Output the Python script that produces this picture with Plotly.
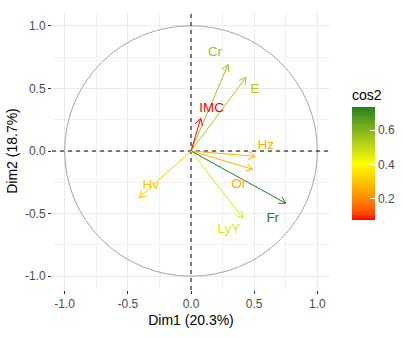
import math
import plotly.graph_objects as go
from plotly.colors import sample_colorscale

# ---- data ----
variables = ["Cr", "E", "IMC", "Hz", "Ol", "Fr", "LyY", "Hv"]
dim1 = [0.293, 0.435, 0.077, 0.507, 0.489, 0.750, 0.410, -0.410]
dim2 = [0.690, 0.588, 0.260, -0.042, -0.146, -0.417, -0.537, -0.370]
cos2 = [a * a + b * b for a, b in zip(dim1, dim2)]
# repelled label positions (layout)
label_x = [0.19, 0.507, 0.164, 0.591, 0.372, 0.647, 0.30, -0.319]
label_y = [0.788, 0.492, 0.341, 0.04, -0.266, -0.537, -0.63, -0.279]

x_ticks = [-1.0, -0.5, 0.0, 0.5, 1.0]
y_ticks = [-1.0, -0.5, 0.0, 0.5, 1.0]
cbar_ticks = [0.2, 0.4, 0.6]
x_title = "Dim1 (20.3%)"
y_title = "Dim2 (18.7%)"

# ---- layout constants ----
W, H = 403, 338
ML, MR, MT, MB = 52, 73, 12, 48
XR = [-1.10, 1.10]
YR = [-1.11, 1.11]
pw, ph = W - ML - MR, H - MT - MB
sx = pw / (XR[1] - XR[0])
sy = ph / (YR[1] - YR[0])

# ---- Lab-interpolated gradient (like ggplot) ----
def hex2rgb(h):
    h = h.lstrip("#")
    return [int(h[i:i + 2], 16) / 255 for i in (0, 2, 4)]

def srgb2lin(c):
    return c / 12.92 if c <= 0.04045 else ((c + 0.055) / 1.055) ** 2.4

def lin2srgb(c):
    c = min(max(c, 0), 1)
    return 12.92 * c if c <= 0.0031308 else 1.055 * c ** (1 / 2.4) - 0.055

WP = (0.95047, 1.0, 1.08883)

def rgb2lab(rgb):
    r, g, b = [srgb2lin(c) for c in rgb]
    X = 0.4124 * r + 0.3576 * g + 0.1805 * b
    Y = 0.2126 * r + 0.7152 * g + 0.0722 * b
    Z = 0.0193 * r + 0.1192 * g + 0.9505 * b
    def f(t):
        return t ** (1 / 3) if t > 0.008856 else 7.787 * t + 16 / 116
    fx, fy, fz = f(X / WP[0]), f(Y / WP[1]), f(Z / WP[2])
    return (116 * fy - 16, 500 * (fx - fy), 200 * (fy - fz))

def lab2hex(lab):
    L, a, b = lab
    fy = (L + 16) / 116
    fx = fy + a / 500
    fz = fy - b / 200
    def fi(t):
        return t ** 3 if t ** 3 > 0.008856 else (t - 16 / 116) / 7.787
    X, Y, Z = WP[0] * fi(fx), WP[1] * fi(fy), WP[2] * fi(fz)
    r = 3.2406 * X - 1.5372 * Y - 0.4986 * Z
    g = -0.9689 * X + 1.8758 * Y + 0.0415 * Z
    bb = 0.0557 * X - 0.2040 * Y + 1.0570 * Z
    return "#" + "".join(f"{int(round(lin2srgb(c) * 255)):02X}" for c in (r, g, bb))

stops = ["#FF0000", "#FFFF00", "#1E821E"]
labs = [rgb2lab(hex2rgb(s)) for s in stops]
cscale = []
N = 20
for i in range(N + 1):
    t = i / N
    seg = min(int(t * 2), 1)
    u = t * 2 - seg
    l0, l1 = labs[seg], labs[seg + 1]
    cscale.append([t, lab2hex([l0[k] + (l1[k] - l0[k]) * u for k in range(3)])])

cmin, cmax = min(cos2), max(cos2)

def col(v):
    return sample_colorscale(cscale, [(v - cmin) / (cmax - cmin)])[0]

fig = go.Figure()

# reference dashed lines
fig.add_trace(go.Scatter(x=[0, 0], y=YR, mode="lines",
                         line=dict(color="black", width=1, dash="4px,4px"),
                         hoverinfo="skip", showlegend=False))
fig.add_trace(go.Scatter(x=XR, y=[0, 0], mode="lines",
                         line=dict(color="black", width=1, dash="4px,4px"),
                         hoverinfo="skip", showlegend=False))

head = 7.6
ang = math.radians(30)
for name, x, y, c in zip(variables, dim1, dim2, cos2):
    color = col(c)
    px, py = x * sx, y * sy
    L = math.hypot(px, py)
    ux, uy = -px / L, -py / L
    hx, hy = [], []
    for s in (1, -1):
        ca, sa = math.cos(s * ang), math.sin(s * ang)
        rx = ux * ca - uy * sa
        ry = ux * sa + uy * ca
        hx.append(x + rx * head / sx)
        hy.append(y + ry * head / sy)
    fig.add_trace(go.Scatter(
        x=[0, x, None, hx[0], x, hx[1]],
        y=[0, y, None, hy[0], y, hy[1]],
        mode="lines", line=dict(color=color, width=1),
        hoverinfo="skip", showlegend=False))

for name, lx, ly, c in zip(variables, label_x, label_y, cos2):
    fig.add_trace(go.Scatter(
        x=[lx], y=[ly], mode="text", text=[name],
        textfont=dict(color=col(c), size=13.5, family="Liberation Sans"),
        textposition="middle center", showlegend=False, hoverinfo="skip"))

# colorbar carrier
fig.add_trace(go.Scatter(
    x=dim1, y=dim2, mode="markers",
    marker=dict(size=1, opacity=0, color=cos2, cmin=cmin, cmax=cmax,
                colorscale=cscale, showscale=True,
                colorbar=dict(
                    title=dict(text="cos2", side="top",
                               font=dict(size=14, color="black", family="Liberation Sans")),
                    thickness=23, thicknessmode="pixels",
                    len=134, lenmode="pixels",
                    x=(352 - ML) / pw, xanchor="left", xref="paper",
                    y=(H - MB - 220) / ph, yanchor="bottom",
                    xpad=0, ypad=0, outlinewidth=0,
                    tickvals=cbar_ticks, ticktext=[f"{v:.1f}" for v in cbar_ticks],
                    ticks="inside", ticklen=5, tickcolor="white", tickwidth=1,
                    tickfont=dict(size=12, color="#4d4d4d", family="Liberation Sans"))),
    hoverinfo="skip", showlegend=False))

axis_common = dict(
    showgrid=True, gridcolor="#ebebeb", gridwidth=1, zeroline=False,
    showline=False, ticks="outside", ticklen=3, tickcolor="#333333",
    automargin=False,
    tickfont=dict(size=12, color="#4d4d4d", family="Liberation Sans"),
    minor=dict(dtick=0.25, tick0=0.25, showgrid=True, gridcolor="#f2f2f2", gridwidth=0.6),
)

fig.update_layout(
    width=W, height=H,
    margin=dict(l=ML, r=MR, t=MT, b=MB, autoexpand=False),
    paper_bgcolor="white", plot_bgcolor="white",
    font=dict(family="Liberation Sans"),
    xaxis=dict(range=XR, tickvals=x_ticks, ticktext=[f"{v:.1f}" for v in x_ticks],
               title=dict(text=x_title, font=dict(size=14, color="black"), standoff=4),
               **axis_common),
    yaxis=dict(range=YR, tickvals=y_ticks, ticktext=[f"{v:.1f}" for v in y_ticks],
               title=dict(text=y_title, font=dict(size=14, color="black"), standoff=4),
               **axis_common),
    shapes=[
        dict(type="circle", xref="x", yref="y", x0=-1, y0=-1, x1=1, y1=1,
             line=dict(color="#a6a6a6", width=1), layer="between"),
    ],
)

fig.write_html("out.html", config={"displayModeBar": False},
               post_script="document.body.style.margin='0';document.body.style.padding='0';")
